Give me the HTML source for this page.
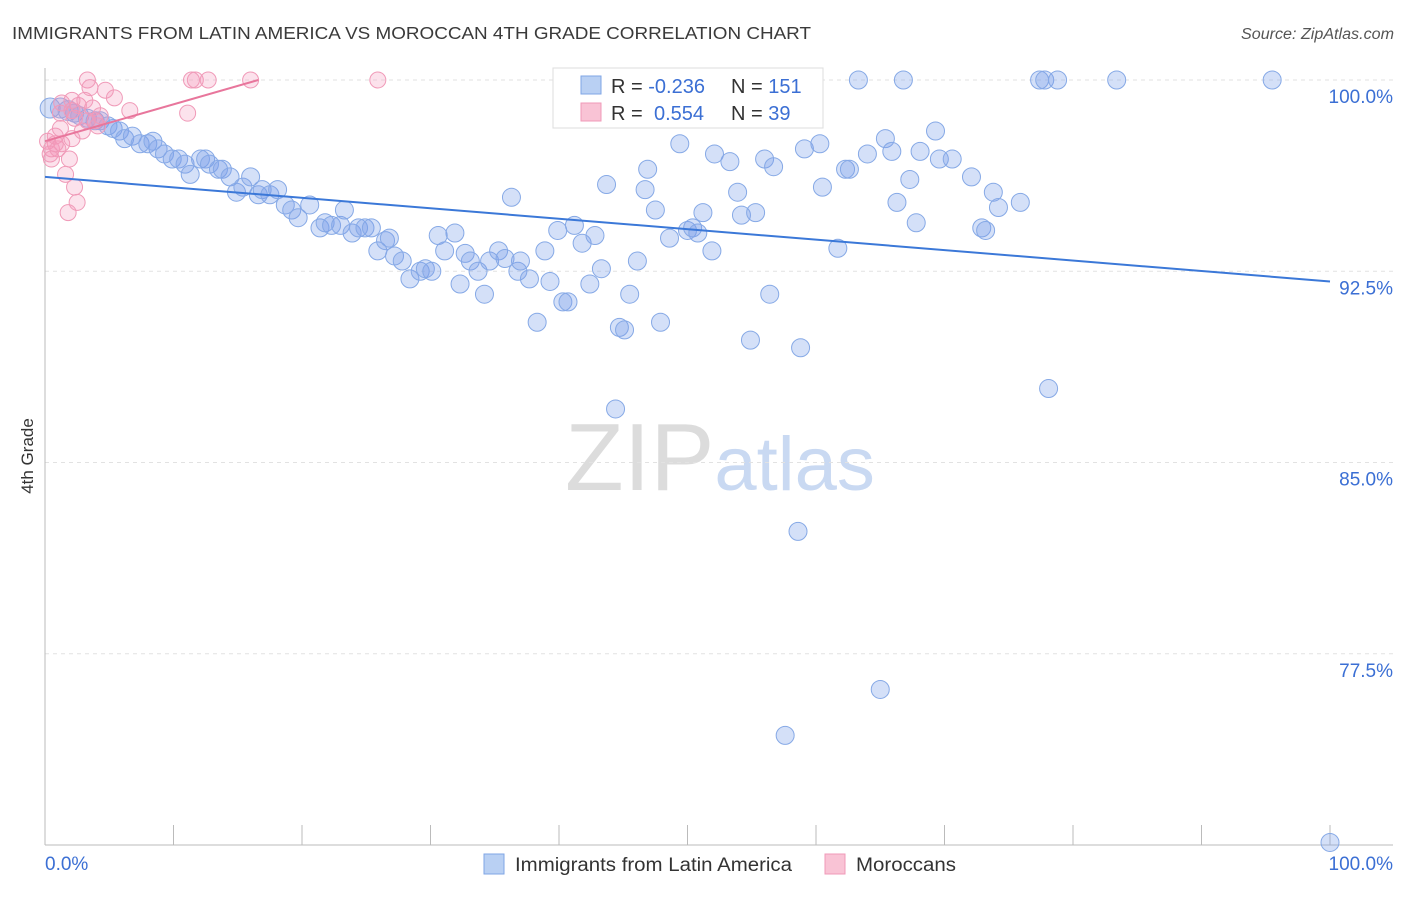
<!DOCTYPE html>
<html><head><meta charset="utf-8"><style>
body{margin:0;background:#fff;font-family:"Liberation Sans",sans-serif}
svg text{font-family:"Liberation Sans",sans-serif}
</style></head><body>
<svg id="chart" width="1406" height="892" viewBox="0 0 1406 892" xmlns="http://www.w3.org/2000/svg">
<text x="12" y="39" font-size="17.5" fill="#3a3a3a" textLength="799" lengthAdjust="spacingAndGlyphs">IMMIGRANTS FROM LATIN AMERICA VS MOROCCAN 4TH GRADE CORRELATION CHART</text>
<text x="1241" y="39" font-size="15.5" fill="#555" font-style="italic" textLength="153" lengthAdjust="spacingAndGlyphs">Source: ZipAtlas.com</text>
<text x="720" y="490" font-size="96" text-anchor="middle" fill="#dcdcdc" font-family="Liberation Serif">ZIP<tspan fill="#c9d9f2" font-family="Liberation Sans" font-size="76">atlas</tspan></text>
<text transform="translate(33,456) rotate(-90)" font-size="17" fill="#333" text-anchor="middle">4th Grade</text>
<g id="grid"></g><g id="axes"></g><g id="pts"></g><g id="trend"></g>
<g>
<rect x="553" y="68" width="270" height="60" fill="#fff" stroke="#ddd"/>
<rect x="581" y="76" width="20" height="18" fill="#b9d0f3" stroke="#7fa6e6"/>
<rect x="581" y="103" width="20" height="18" fill="#f9c3d5" stroke="#f09ab8"/>
<text x="611" y="93" font-size="20" fill="#333">R = <tspan fill="#3b6fd4">-0.236</tspan><tspan x="731">N = </tspan><tspan fill="#3b6fd4">151</tspan></text>
<text x="611" y="120" font-size="20" fill="#333">R = <tspan fill="#3b6fd4" x="654">0.554</tspan><tspan x="731">N = </tspan><tspan fill="#3b6fd4">39</tspan></text>
</g>
<g>
<rect x="484" y="854" width="20" height="20" fill="#b9d0f3" stroke="#7fa6e6"/>
<text x="515" y="871" font-size="19" fill="#333" textLength="277" lengthAdjust="spacingAndGlyphs">Immigrants from Latin America</text>
<rect x="825" y="854" width="20" height="20" fill="#f9c3d5" stroke="#f09ab8"/>
<text x="856" y="871" font-size="19" fill="#333" textLength="100" lengthAdjust="spacingAndGlyphs">Moroccans</text>
</g>
</svg>
<script>
const blueX=[0.4,1.2,1.8,2.3,2.7,3.3,3.9,4.3,4.9,5.3,5.8,6.2,6.8,7.4,8.0,8.4,8.8,9.3,9.9,10.4,10.9,11.3,12.1,12.5,12.8,13.5,13.8,14.4,14.9,15.4,16.0,16.6,16.9,17.5,18.1,18.7,19.2,19.7,20.6,21.4,21.8,22.3,23.0,23.3,23.9,24.4,24.9,25.4,25.9,26.5,26.8,27.2,27.8,28.4,29.2,29.6,30.1,30.6,31.1,31.9,32.3,32.7,33.1,33.7,34.2,34.6,35.3,35.8,36.3,36.8,37.0,37.7,38.3,38.9,39.3,39.9,40.3,40.7,41.2,41.8,42.4,42.8,43.3,43.7,44.7,45.1,45.5,46.1,46.7,46.9,47.5,47.9,48.6,49.4,50.0,50.4,50.8,51.2,51.9,52.1,53.2,53.3,53.9,54.2,54.9,55.3,56.0,56.4,56.7,57.6,58.6,58.8,59.1,44.4,60.3,60.5,61.7,62.3,62.6,63.3,64.0,65.0,65.4,65.9,66.3,66.8,67.3,67.8,68.1,69.3,69.6,70.6,72.1,72.9,73.2,73.8,74.2,75.9,77.4,77.8,78.1,78.8,83.4,95.5,100];
const blueY=[98.9,98.9,98.8,98.7,98.6,98.5,98.4,98.4,98.2,98.1,98.0,97.7,97.8,97.5,97.5,97.6,97.3,97.1,96.9,96.9,96.7,96.3,96.9,96.9,96.7,96.5,96.5,96.2,95.6,95.8,96.2,95.5,95.7,95.5,95.7,95.1,94.9,94.6,95.1,94.2,94.4,94.3,94.3,94.9,94.0,94.2,94.2,94.2,93.3,93.7,93.8,93.1,92.9,92.2,92.5,92.6,92.5,93.9,93.3,94.0,92.0,93.2,92.9,92.5,91.6,92.9,93.3,93.0,95.4,92.5,92.9,92.2,90.5,93.3,92.1,94.1,91.3,91.3,94.3,93.6,92.0,93.9,92.6,95.9,90.3,90.2,91.6,92.9,95.7,96.5,94.9,90.5,93.8,97.5,94.1,94.2,94.0,94.8,93.3,97.1,98.5,96.8,95.6,94.7,89.8,94.8,96.9,91.6,96.6,74.3,82.3,89.5,97.3,87.1,97.5,95.8,93.4,96.5,96.5,100,97.1,76.1,97.7,97.2,95.2,100,96.1,94.4,97.2,98.0,96.9,96.9,96.2,94.2,94.1,95.6,95.0,95.2,100,100,87.9,100,100,100,70.1];
const pinkX=[0.2,0.4,0.5,0.8,1.0,1.3,1.2,1.6,1.8,1.9,2.1,2.3,2.5,2.1,2.3,2.6,2.9,3.1,3.3,3.5,3.7,3.9,4.1,4.3,4.7,5.4,6.6,11.1,11.4,11.7,12.7,16.0,25.9,1.2,3.3,1.3,2.1,0.5,0.8];
const pinkY=[97.6,97.1,97.3,97.8,97.3,97.5,98.1,96.3,94.8,96.9,97.7,95.8,95.2,98.8,98.5,99.0,98.0,99.2,100,99.7,98.9,98.4,98.2,98.6,99.6,99.3,98.8,98.7,100,100,100,100,100,98.7,98.4,99.1,99.2,96.9,97.5];
const blueTrendX=[0,100], blueTrendY=[96.2,92.1];
const pinkTrendX=[0,16.6], pinkTrendY=[97.6,100];
const yTicks=[100,92.5,85,77.5];
const yTickLabels=["100.0%","92.5%","85.0%","77.5%"];
const xTicks=[0,10,20,30,40,50,60,70,80,90,100];
const xEndLabels=["0.0%","100.0%"];
const NS="http://www.w3.org/2000/svg";
const X=v=>45+v*12.85, Y=v=>80+(100-v)*25.5;
function mk(p,t,a){const e=document.createElementNS(NS,t);for(const k in a)e.setAttribute(k,a[k]);document.getElementById(p).appendChild(e);return e;}
yTicks.forEach((t,i)=>{
 const l=mk('grid','line',{x1:45,x2:1393,y1:Y(t),y2:Y(t),stroke:'#e2e2e2','stroke-dasharray':'4,4'});
 
 
 const tx=mk('grid','text',{x:1393,y:Y(t)+23,'text-anchor':'end','font-size':19,fill:'#3b6fd4'});
 tx.textContent=yTickLabels[i];
 
 
});
const ax=mk('axes','line',{x1:45,x2:1393,y1:845,y2:845,stroke:'#bbb'});


const ay=mk('axes','line',{x1:45,x2:45,y1:68,y2:845,stroke:'#bbb'});


xTicks.forEach(t=>{const l=mk('axes','line',{x1:X(t),x2:X(t),y1:825,y2:845,stroke:'#bbb'});
 
 });
const xl0=mk('axes','text',{x:45,y:870,'font-size':19,fill:'#3b6fd4'});xl0.textContent=xEndLabels[0];


const xl1=mk('axes','text',{x:1393,y:870,'font-size':19,fill:'#3b6fd4','text-anchor':'end'});xl1.textContent=xEndLabels[1];


blueX.forEach((x,i)=>{const c=mk('pts','circle',{cx:X(x),cy:Y(blueY[i]),r:i<3?10:9,fill:'rgba(120,160,232,0.32)',stroke:'#86a9e6','stroke-width':1});
 
 });
pinkX.forEach((x,i)=>{const c=mk('pts','circle',{cx:X(x),cy:Y(pinkY[i]),r:8,fill:'rgba(244,150,185,0.28)',stroke:'#f09ab8','stroke-width':1});
 
 });
const bt=mk('trend','line',{x1:X(blueTrendX[0]),y1:Y(blueTrendY[0]),x2:X(blueTrendX[1]),y2:Y(blueTrendY[1]),stroke:'#3b78d8','stroke-width':2});


const pt=mk('trend','line',{x1:X(pinkTrendX[0]),y1:Y(pinkTrendY[0]),x2:X(pinkTrendX[1]),y2:Y(pinkTrendY[1]),stroke:'#e8769c','stroke-width':2});


</script>
</body></html>
